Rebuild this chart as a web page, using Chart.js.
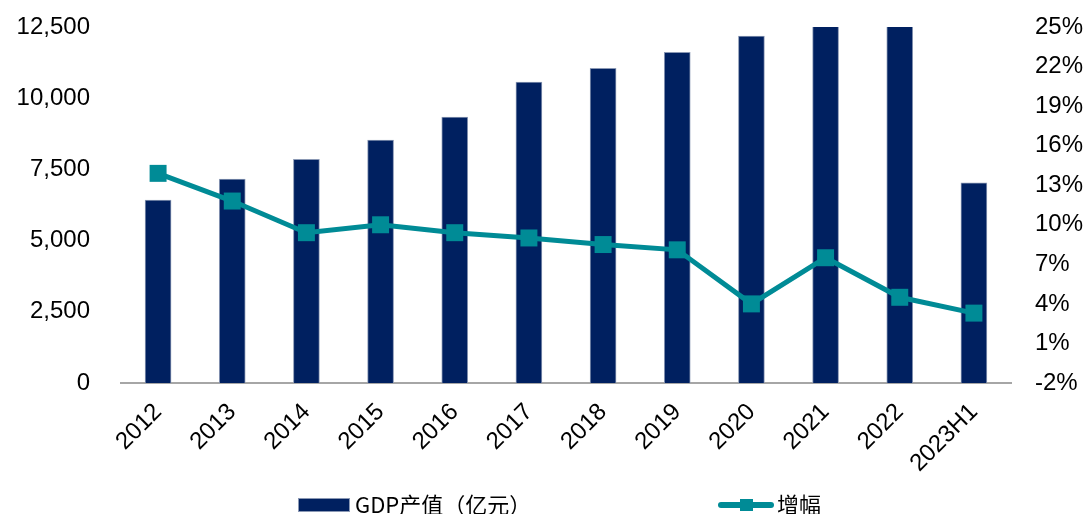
<!DOCTYPE html>
<html><head><meta charset="utf-8">
<script src="https://cdn.jsdelivr.net/npm/chart.js@4/dist/chart.umd.min.js"></script>
<style>
html,body{margin:0;padding:0;background:#fff;}
#wrap{position:relative;width:1090px;height:514px;overflow:hidden;}
canvas{position:absolute;left:0;top:0;}
.lg{position:absolute;top:492px;font-family:"Noto Sans CJK SC","Liberation Sans",sans-serif;font-size:22px;color:#000;line-height:22px;white-space:nowrap;}
.box{position:absolute;}
</style></head><body>
<div id="wrap">
<canvas id="c" width="1090" height="514"></canvas>
<div class="box" style="left:298px;top:498px;width:52px;height:14px;background:#002060;border:1px solid #8a98b4;box-sizing:border-box;"></div>
<div class="lg" style="left:355px;">GDP产值（亿元）</div>
<div class="box" style="left:718px;top:502px;width:56px;height:6px;background:#008B96;border-radius:3px;"></div>
<div class="box" style="left:740px;top:499px;width:13px;height:12px;background:#008B96;"></div>
<div class="lg" style="left:777px;">增幅</div>
</div>
<script>
const categories = ['2012','2013','2014','2015','2016','2017','2018','2019','2020','2021','2022','2023H1'];
const gdpValues = [6420, 7160, 7850, 8530, 9340, 10570, 11050, 11610, 12180, 12750, 13050, 7030];
const growthValues = [13.9, 11.8, 9.4, 10.0, 9.4, 9.0, 8.5, 8.1, 4.0, 7.5, 4.5, 3.3];
const leftTicks = [0, 2500, 5000, 7500, 10000, 12500];
const rightTicks = [-2, 1, 4, 7, 10, 13, 16, 19, 22, 25];

const tickFont = {family: "'Liberation Sans', Arial, sans-serif", size: 24};
function fixV(w){ return s => { s.width = w; s.paddingTop = 0; s.paddingBottom = 0; }; }
new Chart(document.getElementById('c'), {
  data: {
    labels: categories,
    datasets: [
      {type: 'line', label: '增幅', data: growthValues, yAxisID: 'y1', order: 0,
       borderColor: '#008B96', backgroundColor: '#008B96', borderWidth: 5,
       pointStyle: 'rect', pointRadius: 12, pointHoverRadius: 12, pointBorderWidth: 0, tension: 0},
      {type: 'bar', label: 'GDP产值（亿元）', data: gdpValues, yAxisID: 'y', order: 1,
       backgroundColor: '#002060', borderColor: '#8a98b4', borderWidth: 1, barThickness: 26}
    ]
  },
  options: {
    responsive: false, animation: false,
    layout: {padding: {top: 27, bottom: 0, left: 0, right: 0}},
    plugins: {legend: {display: false}, tooltip: {enabled: false}},
    scales: {
      x: {
        grid: {display: false, drawTicks: false},
        border: {display: true, color: '#A6A6A6', width: 2},
        ticks: {font: tickFont, color: '#000', maxRotation: 45, minRotation: 45, padding: 15},
        afterFit: s => { s.height = 131; s.paddingLeft = 0; s.paddingRight = 0; }
      },
      y: {
        position: 'left', min: 0, max: 12500,
        afterBuildTicks: s => { s.ticks = leftTicks.map(v => ({value: v})); },
        grid: {display: false, drawTicks: false},
        border: {display: false},
        ticks: {font: tickFont, color: '#000', padding: 31,
                callback: v => v.toLocaleString('en-US')},
        afterFit: fixV(121)
      },
      y1: {
        position: 'right', min: -2, max: 25,
        afterBuildTicks: s => { s.ticks = rightTicks.map(v => ({value: v})); },
        grid: {display: false, drawTicks: false},
        border: {display: false},
        ticks: {font: tickFont, color: '#000', padding: 24, callback: v => v + '%'},
        afterFit: fixV(79)
      }
    }
  }
});
</script>
</body></html>
